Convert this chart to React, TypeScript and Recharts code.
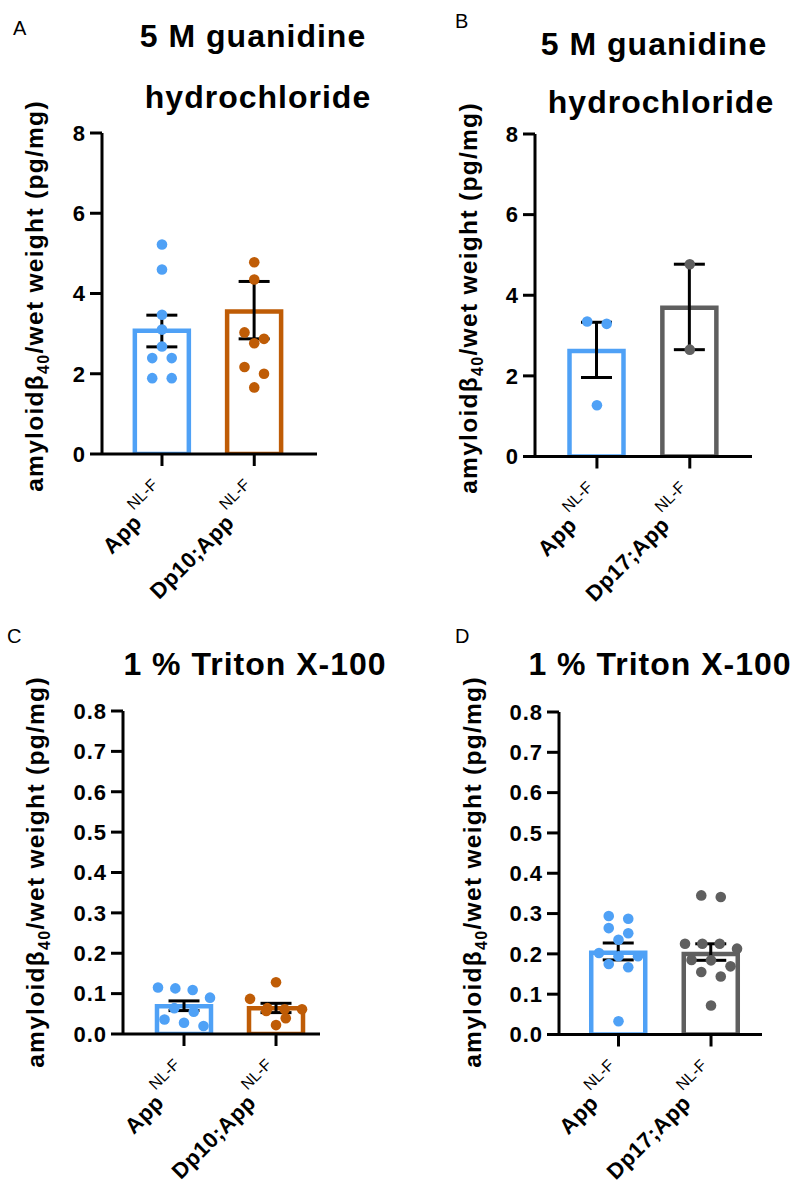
import React from "react";
import { Bar, Cell, ComposedChart, ErrorBar, Scatter, XAxis, YAxis } from "recharts";

const FONT = '"Liberation Sans", Arial, Helvetica, sans-serif';
const BLUE = "#4FA1F6";
const ORANGE = "#BF5C06";
const GRAY = "#5F5F5F";

// panel A: 5 M GuHCl, Dp10
const groupsA = ["App", "Dp10;App"];
const meanA = [3.07, 3.55];
const lowA = [2.67, 2.87];
const highA = [3.46, 4.3];
const dotsA1 = [5.22, 4.6, 3.47, 3.1, 2.68, 2.39, 2.39, 1.89, 1.89];
const dotsA2 = [4.78, 4.35, 3.03, 2.87, 2.76, 2.17, 2.0, 1.66];

// panel B: 5 M GuHCl, Dp17
const groupsB = ["App", "Dp17;App"];
const meanB = [2.62, 3.69];
const lowB = [1.96, 2.65];
const highB = [3.33, 4.77];
const dotsB1 = [3.35, 3.29, 1.27];
const dotsB2 = [4.77, 2.65];

// panel C: 1 % Triton, Dp10
const groupsC = ["App", "Dp10;App"];
const meanC = [0.069, 0.064];
const lowC = [0.058, 0.053];
const highC = [0.082, 0.076];
const dotsC1 = [0.115, 0.113, 0.109, 0.09, 0.064, 0.055, 0.036, 0.028, 0.02];
const dotsC2 = [0.128, 0.087, 0.064, 0.061, 0.061, 0.057, 0.039, 0.022];

// panel D: 1 % Triton, Dp17
const groupsD = ["App", "Dp17;App"];
const meanD = [0.203, 0.2];
const lowD = [0.185, 0.184];
const highD = [0.227, 0.225];
const dotsD1 = [0.294, 0.287, 0.264, 0.251, 0.235, 0.202, 0.194, 0.194, 0.175, 0.167, 0.033];
const dotsD2 = [0.345, 0.341, 0.225, 0.225, 0.225, 0.213, 0.185, 0.184, 0.169, 0.155, 0.144, 0.072];

const ticksBig = [0, 2, 4, 6, 8];
const ticksSmall = [0, 0.1, 0.2, 0.3, 0.4, 0.5, 0.6, 0.7, 0.8];

const DOT_D = 10.5;

// prism-like column scatter: points closer than a dot get spread sideways
function swarm(values: number[], group: number, pxX: number, pxY: number) {
  const sorted = [...values].sort((a, b) => b - a);
  const rows: number[][] = [];
  for (const v of sorted) {
    const row = rows[rows.length - 1];
    if (row && (row[0] - v) * pxY < DOT_D) row.push(v);
    else rows.push([v]);
  }
  const pts: { x: number; y: number }[] = [];
  rows.forEach((row) => {
    const n = row.length;
    const step = n > 1 ? Math.min(19.5, 52 / (n - 1)) : 0;
    row.forEach((v, i) => pts.push({ x: group + ((i - (n - 1) / 2) * step) / pxX, y: v }));
  });
  return pts;
}

// rotated group name with the NL-F superscript; y arrives as axis + tick length
function XTick(props: any) {
  const { x, y, payload, names } = props;
  const name = names[Math.round(payload.value) - 1];
  return (
    <g transform={`translate(${x + 8}, ${y + 29}) rotate(-45)`}>
      <text x={-38} y={0} textAnchor="end" fontFamily={FONT} fontSize={22} fontWeight={700} letterSpacing={0.5} fill="#000">
        {name}
      </text>
      <text x={0} y={-16} textAnchor="end" fontFamily={FONT} fontSize={16} fill="#000">
        NL-F
      </text>
    </g>
  );
}

type Box = { left: number; top: number; right: number; bottom: number };

function Panel(props: {
  box: Box;
  xDomain: [number, number];
  yMax: number;
  yTicks: number[];
  names: string[];
  colors: string[];
  means: number[];
  lows: number[];
  highs: number[];
  dots: number[][];
  decimals: boolean;
}) {
  const { box, xDomain, yMax, yTicks, names, colors, means, lows, highs, dots, decimals } = props;
  const plotW = box.right - box.left;
  const plotH = box.bottom - box.top;
  const pxX = plotW / (xDomain[1] - xDomain[0]);
  const pxY = plotH / yMax;
  const bars = means.map((m, i) => ({ x: i + 1, mean: m, err: [m - lows[i], highs[i] - m] }));
  const swarms = dots.map((vals, i) => swarm(vals, i + 1, pxX, pxY));

  return (
    <div style={{ position: "absolute", left: box.left - 100, top: box.top - 20 }}>
      <ComposedChart
        width={plotW + 110}
        height={plotH + 180}
        data={bars}
        margin={{ top: 20, right: 10, bottom: 10, left: 40 }}
      >
        <XAxis
          type="number"
          dataKey="x"
          domain={xDomain}
          ticks={[1, 2]}
          interval={0}
          height={150}
          tickSize={12}
          tickLine={{ stroke: "#000", strokeWidth: 3 }}
          axisLine={{ stroke: "#000", strokeWidth: 3 }}
          tick={(p: any) => <XTick {...p} names={names} />}
          allowDataOverflow
        />
        <XAxis xAxisId="s" type="number" dataKey="x" domain={xDomain} hide allowDataOverflow />
        <YAxis
          type="number"
          domain={[0, yMax]}
          ticks={yTicks}
          interval={0}
          width={60}
          tickSize={12}
          tickMargin={4}
          tickFormatter={(v: number) => (decimals ? v.toFixed(1) : String(v))}
          tick={{ fontSize: 22, fontWeight: 700, fill: "#000", fontFamily: FONT, letterSpacing: 1 }}
          tickLine={{ stroke: "#000", strokeWidth: 3 }}
          axisLine={{ stroke: "#000", strokeWidth: 3 }}
          allowDataOverflow
        />
        <Bar dataKey="mean" barSize={54} strokeWidth={4.5} isAnimationActive={false}>
          {bars.map((b, i) => (
            <Cell key={b.x} fill="#fff" stroke={colors[i]} />
          ))}
          <ErrorBar dataKey="err" width={15.5} stroke="#000" strokeWidth={3} direction="y" isAnimationActive={false} />
        </Bar>
        {swarms.map((pts, i) => (
          <Scatter
            key={i}
            xAxisId="s"
            data={pts}
            dataKey="y"
            isAnimationActive={false}
            shape={(p: any) => <circle cx={p.cx} cy={p.cy} r={5.3} fill={colors[i]} />}
          />
        ))}
      </ComposedChart>
    </div>
  );
}

function YLabel({ x, y }: { x: number; y: number }) {
  return (
    <text
      transform={`translate(${x},${y}) rotate(-90)`}
      textAnchor="middle"
      fontFamily={FONT}
      fontWeight={700}
      fontSize={24.5}
      letterSpacing={1.3}
      fill="#000"
    >
      amyloidβ
      <tspan fontSize={16} dy={6}>40</tspan>
      <tspan dy={-6}>/wet weight (pg/mg)</tspan>
    </text>
  );
}

const titleStyle = { fontFamily: FONT, fontWeight: 700, fontSize: 32, letterSpacing: 1 } as const;
const letterStyle = { fontFamily: FONT, fontSize: 20 } as const;

export default function App() {
  return (
    <div style={{ position: "absolute", left: 0, top: 0, width: 800, height: 1187, overflow: "hidden", background: "#fff" }}>
      <Panel
        box={{ left: 102, top: 133, right: 317, bottom: 454 }}
        xDomain={[0.35, 2.68]}
        yMax={8}
        yTicks={ticksBig}
        names={groupsA}
        colors={[BLUE, ORANGE]}
        means={meanA}
        lows={lowA}
        highs={highA}
        dots={[dotsA1, dotsA2]}
        decimals={false}
      />
      <Panel
        box={{ left: 535, top: 134, right: 752, bottom: 456.5 }}
        xDomain={[0.333, 2.67]}
        yMax={8}
        yTicks={ticksBig}
        names={groupsB}
        colors={[BLUE, GRAY]}
        means={meanB}
        lows={lowB}
        highs={highB}
        dots={[dotsB1, dotsB2]}
        decimals={false}
      />
      <Panel
        box={{ left: 123, top: 711, right: 320, bottom: 1034 }}
        xDomain={[0.337, 2.478]}
        yMax={0.8}
        yTicks={ticksSmall}
        names={groupsC}
        colors={[BLUE, ORANGE]}
        means={meanC}
        lows={lowC}
        highs={highC}
        dots={[dotsC1, dotsC2]}
        decimals
      />
      <Panel
        box={{ left: 559, top: 711.5, right: 762, bottom: 1034 }}
        xDomain={[0.357, 2.551]}
        yMax={0.8}
        yTicks={ticksSmall}
        names={groupsD}
        colors={[BLUE, GRAY]}
        means={meanD}
        lows={lowD}
        highs={highD}
        dots={[dotsD1, dotsD2]}
        decimals
      />
      <svg width={800} height={1187} style={{ position: "absolute", left: 0, top: 0, pointerEvents: "none" }}>
        <text x={13} y={35} {...letterStyle}>A</text>
        <text x={455} y={28} {...letterStyle}>B</text>
        <text x={7} y={643} {...letterStyle}>C</text>
        <text x={455} y={643} {...letterStyle}>D</text>
        <text x={253} y={47} textAnchor="middle" {...titleStyle}>5 M guanidine</text>
        <text x={258} y={108} textAnchor="middle" {...titleStyle}>hydrochloride</text>
        <text x={654} y={55} textAnchor="middle" {...titleStyle}>5 M guanidine</text>
        <text x={661} y={113} textAnchor="middle" {...titleStyle}>hydrochloride</text>
        <text x={255} y={675} textAnchor="middle" {...titleStyle}>1 % Triton X-100</text>
        <text x={660} y={675} textAnchor="middle" {...titleStyle}>1 % Triton X-100</text>
        <YLabel x={43} y={296} />
        <YLabel x={477} y={298} />
        <YLabel x={44} y={872} />
        <YLabel x={481} y={872} />
      </svg>
    </div>
  );
}
